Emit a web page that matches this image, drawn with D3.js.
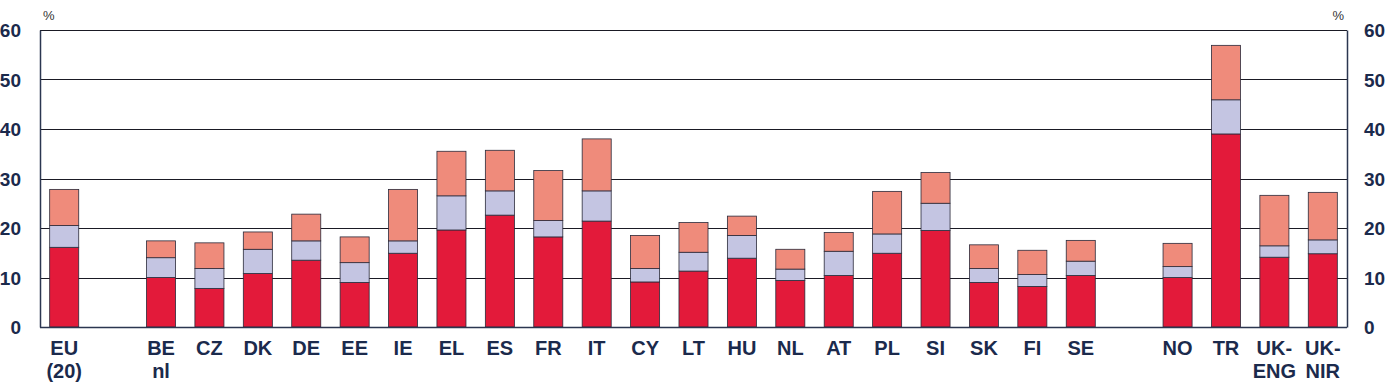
<!DOCTYPE html>
<html>
<head>
<meta charset="utf-8">
<script src="https://cdn.jsdelivr.net/npm/d3@7"></script>
<style>
  body { margin: 0; background: #fff; }
  svg text { font-family: "Liberation Sans Narrow", "Arial Narrow", "Liberation Sans", Arial, sans-serif; }
</style>
</head>
<body>
<div id="chart"></div>
<script>
// categories, "" entries are empty spacer slots
var categories = ["EU\n(20)", "", "BE\nnl", "CZ", "DK", "DE", "EE", "IE", "EL", "ES", "FR", "IT",
  "CY", "LT", "HU", "NL", "AT", "PL", "SI", "SK", "FI", "SE", "", "NO", "TR", "UK-\nENG", "UK-\nNIR"];

// three stacked segments (bottom to top), null for spacer slots
var seriesBottom = [16.1, null, 10.0, 7.8, 10.8, 13.5, 9.0, 14.9, 19.6, 22.6, 18.2, 21.4,
  9.1, 11.3, 13.9, 9.4, 10.4, 14.9, 19.5, 9.0, 8.2, 10.4, null, 10.0, 39.0, 14.1, 14.8];
var seriesMiddle = [4.4, null, 4.0, 4.0, 4.9, 3.9, 4.0, 2.5, 6.9, 4.9, 3.3, 6.1,
  2.7, 3.8, 4.6, 2.3, 4.9, 3.9, 5.5, 2.8, 2.4, 2.9, null, 2.2, 6.9, 2.3, 2.8];
var seriesTop = [7.3, null, 3.4, 5.2, 3.5, 5.4, 5.2, 10.4, 9.0, 8.2, 10.1, 10.5,
  6.7, 6.0, 3.9, 4.0, 3.8, 8.6, 6.2, 4.8, 4.9, 4.2, null, 4.7, 11.0, 10.2, 9.6];

var yTicks = [0, 10, 20, 30, 40, 50, 60];
var colors = ["#e31a3a", "#c4c5e2", "#ef8b7b"];

var W = 1386, H = 392;
var margin = { top: 30, right: 39, bottom: 65, left: 40 };
var iw = W - margin.left - margin.right, ih = H - margin.top - margin.bottom;
var navy = "#1b2a4c";

var svg = d3.select("#chart").append("svg").attr("width", W).attr("height", H);
var g = svg.append("g").attr("transform", "translate(" + margin.left + "," + margin.top + ")");

var slots = categories.map(function (c, i) { return "s" + i; });
var x = d3.scaleBand().domain(slots).range([0, iw]).paddingInner(0.4).paddingOuter(0.2);
var y = d3.scaleLinear().domain([0, 60]).range([ih, 0]);

// gridlines
g.append("g").selectAll("line").data(yTicks.filter(function (t) { return t > 0; }))
  .enter().append("line")
  .attr("x1", 0).attr("x2", iw)
  .attr("y1", function (d) { return Math.round(y(d)) + 0.5; })
  .attr("y2", function (d) { return Math.round(y(d)) + 0.5; })
  .attr("stroke", "#1a1a24").attr("stroke-width", 1.2);

// stack
var rows = categories.map(function (c, i) {
  return { key: slots[i], a: seriesBottom[i] || 0, b: seriesMiddle[i] || 0, c: seriesTop[i] || 0 };
});
var stack = d3.stack().keys(["a", "b", "c"])(rows);

g.append("g").selectAll("g").data(stack).enter().append("g")
  .attr("fill", function (d, i) { return colors[i]; })
  .selectAll("rect").data(function (d) { return d.filter(function (p) { return p[1] > p[0]; }); })
  .enter().append("rect")
  .attr("x", function (d) { return x(d.data.key); })
  .attr("width", x.bandwidth())
  .attr("y", function (d) { return y(d[1]); })
  .attr("height", function (d) { return y(d[0]) - y(d[1]); })
  .attr("stroke", "#2a2a3a").attr("stroke-width", 0.8);

// frame axes
var yl = d3.axisLeft(y).tickValues(yTicks).tickSize(0).tickPadding(19);
var yr = d3.axisRight(y).tickValues(yTicks).tickSize(0).tickPadding(17);
g.append("g").call(yl).call(function (s) {
  s.select(".domain").attr("stroke", "#2b3650").attr("stroke-width", 1.5);
  s.selectAll("text").attr("fill", navy).attr("font-size", 19).attr("font-weight", "bold").attr("dy", "0.35em");
});
g.append("g").attr("transform", "translate(" + iw + ",0)").call(yr).call(function (s) {
  s.select(".domain").attr("stroke", "#2b3650").attr("stroke-width", 1.5);
  s.selectAll("text").attr("fill", navy).attr("font-size", 19).attr("font-weight", "bold").attr("dy", "0.35em");
});
g.append("line").attr("x1", 0).attr("x2", iw).attr("y1", ih + 0.5).attr("y2", ih + 0.5)
  .attr("stroke", "#2b3650").attr("stroke-width", 1.5);

// category labels
var xa = d3.axisBottom(x).tickSize(0).tickFormat("");
g.append("g").attr("transform", "translate(0," + ih + ")").call(xa).call(function (s) {
  s.select(".domain").remove();
  s.selectAll(".tick").each(function (d, i) {
    var lines = categories[i].split("\n");
    d3.select(this).append("text")
      .attr("fill", navy).attr("font-size", 20).attr("font-weight", "bold")
      .attr("text-anchor", "middle")
      .selectAll("tspan").data(lines).enter().append("tspan")
      .attr("x", 0).attr("y", function (t, j) { return 28 + j * 23; })
      .text(function (t) { return t; });
  });
});

// % unit labels
svg.append("text").attr("x", 43).attr("y", 20).attr("font-size", 13).attr("fill", "#333")
  .style("font-family", "Liberation Sans, Arial, sans-serif").text("%");
svg.append("text").attr("x", 1344).attr("y", 20).attr("text-anchor", "end").attr("font-size", 13).attr("fill", "#333")
  .style("font-family", "Liberation Sans, Arial, sans-serif").text("%");
</script>
</body>
</html>
